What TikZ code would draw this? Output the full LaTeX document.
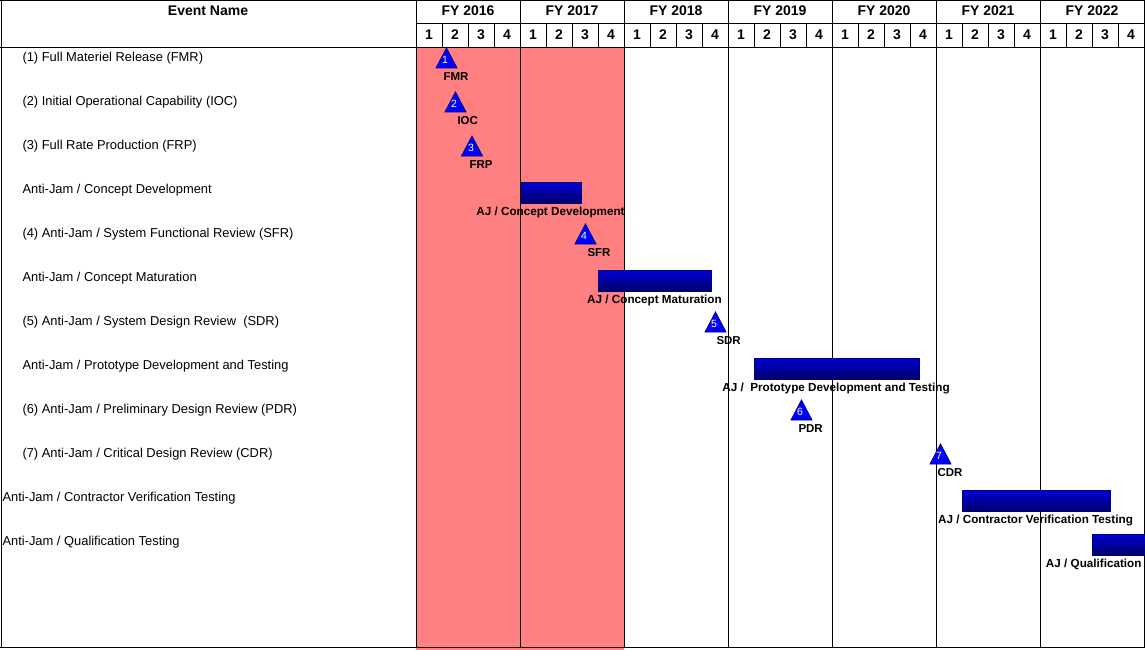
\documentclass[tikz,border=0pt]{standalone}
\usepackage{fontspec}
\setmainfont{Liberation Sans}
\definecolor{fyshade}{HTML}{FF8080}
\definecolor{msfill}{HTML}{0000FF}
\definecolor{msedge}{HTML}{000080}
\definecolor{bartop}{HTML}{0000D8}
\definecolor{barbot}{HTML}{000068}
\begin{document}
\begin{tikzpicture}[x=1pt,y=-1pt,line width=1pt,
  evt/.style={anchor=west,inner sep=0pt,font=\fontsize{12.9}{14}\selectfont},
  hdr/.style={inner sep=0pt,font=\bfseries\fontsize{14}{16}\selectfont},
  mslbl/.style={anchor=west,inner sep=0pt,font=\bfseries\fontsize{11.5}{14}\selectfont},
  barlbl/.style={inner sep=0pt,font=\bfseries\fontsize{11.7}{14}\selectfont},
  msnum/.style={inner sep=0pt,text=white,font=\fontsize{10.5}{10.5}\selectfont},
  ms/.style={draw=msedge,fill=msfill,line width=0.8pt,line join=miter},
  taskbar/.style={draw=msedge,line width=0.8pt,top color=bartop,bottom color=barbot}]
  \useasboundingbox (0,0) rectangle (1145,650);
  % shaded fiscal years
  \fill[fyshade] (416,48) rectangle (624,650);
  % grid
  \draw (0,1) -- (1145,1);
  \draw (416,24) -- (1144,24);
  \draw (0,48) -- (1145,48);
  \draw (0,647) -- (1145,647);
  \draw (1,0) -- (1,647);
  \foreach \i in {0,...,7}
    \draw (416+104*\i,0) -- (416+104*\i,647);
  \foreach \k in {1,...,27}
    \draw (416+26*\k,24) -- (416+26*\k,48);
  % header
  \node[hdr] (hdrname) at (208,11) {Event Name};
  \foreach \yr [count=\i from 0] in {2016,...,2022}
    \node[hdr] (fy\yr) at (468+104*\i,11) {FY \yr};
  \foreach \k in {0,...,27}{
    \pgfmathtruncatemacro\qtr{mod(\k,4)+1}
    \node[hdr] (q\k) at (429+26*\k,35) {\qtr};
  }
  % event names
  \node[evt] (ev1) at (22,58.5) {(1) Full Materiel Release (FMR)};
  \node[evt] (ev2) at (22,102.5) {(2) Initial Operational Capability (IOC)};
  \node[evt] (ev3) at (22,146.5) {(3) Full Rate Production (FRP)};
  \node[evt] (ev4) at (22,190.5) {Anti-Jam / Concept Development};
  \node[evt] (ev5) at (22,234.5) {(4) Anti-Jam / System Functional Review (SFR)};
  \node[evt] (ev6) at (22,278.5) {Anti-Jam / Concept Maturation};
  \node[evt] (ev7) at (22,322.5) {(5) Anti-Jam / System Design Review~ (SDR)};
  \node[evt] (ev8) at (22,366.5) {Anti-Jam / Prototype Development and Testing};
  \node[evt] (ev9) at (22,410.5) {(6) Anti-Jam / Preliminary Design Review (PDR)};
  \node[evt] (ev10) at (22,454.5) {(7) Anti-Jam / Critical Design Review (CDR)};
  \node[evt] (ev11) at (2,498.5) {Anti-Jam / Contractor Verification Testing};
  \node[evt] (ev12) at (2,542.5) {Anti-Jam / Qualification Testing};
  % task bars
  \draw[taskbar] (521,182) rectangle (581,203);
  \node[barlbl] (bar1) at (550.5,212) {AJ / Concept Development};
  \draw[taskbar] (598,270) rectangle (711,291);
  \node[barlbl] (bar2) at (654.5,300) {AJ / Concept Maturation};
  \draw[taskbar] (754,358) rectangle (919,379);
  \node[barlbl] (bar3) at (836,388) {AJ /~ Prototype Development and Testing};
  \draw[taskbar] (962,490) rectangle (1110,511);
  \node[barlbl] (bar4) at (1035.5,520) {AJ / Contractor Verification Testing};
  \draw[taskbar] (1092,534) rectangle (1150,555);
  \node[barlbl,anchor=east] (bar5) at (1142,564) {AJ / Qualification};
  % milestones
  \draw[ms] (446.5,48) -- (457,68) -- (436,68) -- cycle;
  \node[msnum] (ms1) at (445,60) {1};
  \node[mslbl] (ml1) at (443,77) {FMR};
  \draw[ms] (455.5,92) -- (466,112) -- (445,112) -- cycle;
  \node[msnum] (ms2) at (454,104) {2};
  \node[mslbl] (ml2) at (457,121) {IOC};
  \draw[ms] (472,136) -- (482.5,156) -- (461.5,156) -- cycle;
  \node[msnum] (ms3) at (471,148) {3};
  \node[mslbl] (ml3) at (469,165) {FRP};
  \draw[ms] (585.5,224) -- (596,244) -- (575,244) -- cycle;
  \node[msnum] (ms4) at (584,236) {4};
  \node[mslbl] (ml4) at (587,253) {SFR};
  \draw[ms] (715.5,312) -- (726,332) -- (705,332) -- cycle;
  \node[msnum] (ms5) at (714,324) {5};
  \node[mslbl] (ml5) at (716,341) {SDR};
  \draw[ms] (801.5,400) -- (812,420) -- (791,420) -- cycle;
  \node[msnum] (ms6) at (800,412) {6};
  \node[mslbl] (ml6) at (798,429) {PDR};
  \draw[ms] (940.5,444) -- (951,464) -- (930,464) -- cycle;
  \node[msnum] (ms7) at (939,456) {7};
  \node[mslbl] (ml7) at (937,473) {CDR};
\end{tikzpicture}
\end{document}
